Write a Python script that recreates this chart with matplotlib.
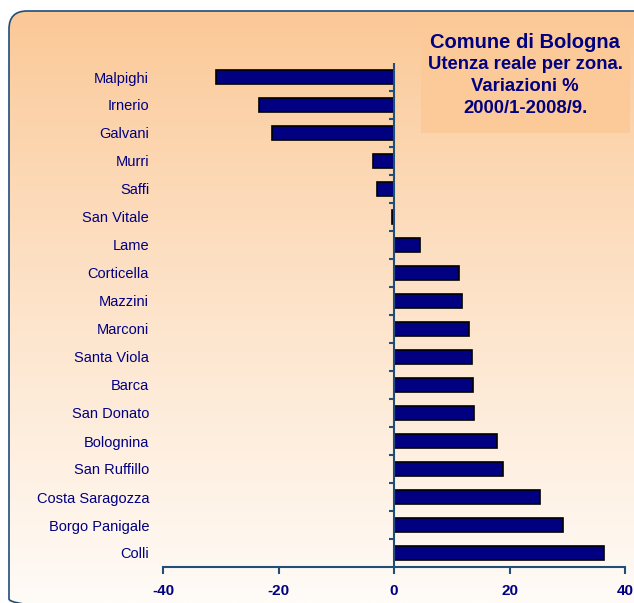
import numpy as np
import matplotlib.pyplot as plt
from matplotlib.patches import FancyBboxPatch

plt.rcParams['font.family'] = ['Liberation Sans', 'DejaVu Sans']

# --- Dati: variazione % utenza reale per zona ---
zone = ["Malpighi", "Irnerio", "Galvani", "Murri", "Saffi", "San Vitale",
        "Lame", "Corticella", "Mazzini", "Marconi", "Santa Viola", "Barca",
        "San Donato", "Bolognina", "San Ruffillo", "Costa Saragozza",
        "Borgo Panigale", "Colli"]
variazioni = [-30.9, -23.4, -21.2, -3.6, -3.0, -0.3,
              4.5, 11.3, 11.8, 13.0, 13.5, 13.7,
              13.9, 17.9, 18.9, 25.3, 29.2, 36.3]
tick_x = [-40, -20, 0, 20, 40]

blu = "#000080"
spina = "#1F4E79"

fig = plt.figure(figsize=(6.34, 6.03), dpi=100)

# sfondo con gradiente e bordo arrotondato (tagliato a destra e in basso)
sfondo = fig.add_axes([0, 0, 1, 1], zorder=0)
sfondo.set_xlim(0, 634)
sfondo.set_ylim(603, 0)
sfondo.axis('off')
cornice = FancyBboxPatch((9, 11), 660, 606, boxstyle="round,pad=0,rounding_size=18",
                         facecolor='none', edgecolor=spina, linewidth=1.2, zorder=3,
                         clip_on=False)
sfondo.add_patch(cornice)
grad = np.linspace(0, 1, 256).reshape(-1, 1)
c_alto = np.array([251, 200, 150]) / 255
c_basso = np.array([255, 251, 247]) / 255
img = c_alto + (c_basso - c_alto) * grad[..., None] ** 0.9
im = sfondo.imshow(img, extent=[9, 669, 603, 11], aspect='auto', zorder=1)
im.set_clip_path(cornice)

# riquadro del titolo
sfondo.add_patch(plt.Rectangle((421, 29), 209, 104, facecolor="#FCCA98",
                               edgecolor='none', zorder=2))
sfondo.text(525, 42, "Comune di Bologna", ha='center', va='center',
            fontsize=14.5, fontweight='bold', color=blu, zorder=4)
sfondo.text(525, 56, "Utenza reale per zona.\nVariazioni %\n2000/1-2008/9.",
            ha='center', va='top', fontsize=13.3, fontweight='bold', color=blu,
            linespacing=1.4, zorder=4)

# grafico a barre
ax = fig.add_axes([163 / 634, (603 - 567) / 603, 462 / 634, 504 / 603], zorder=5)
ax.patch.set_alpha(0)
pos = np.arange(len(zone))
ax.barh(pos, variazioni, height=0.5, color=blu, edgecolor='black', linewidth=1.2)
ax.set_xlim(-40, 40)
ax.set_ylim(len(zone) - 0.5, -0.5)

ax.set_yticks(pos)
ax.set_yticklabels(zone, fontsize=10.5, color=blu)
ax.tick_params(axis='y', length=0, pad=10)
ax.set_xticks(tick_x)
ax.set_xticklabels([str(t) for t in tick_x], fontsize=11, fontweight='bold', color=blu)
ax.tick_params(axis='x', length=5, width=1.5, color=spina, pad=7)

for lato in ['top', 'right', 'left']:
    ax.spines[lato].set_visible(False)
ax.spines['bottom'].set_color(spina)
ax.spines['bottom'].set_linewidth(1.5)

# asse verticale sullo zero con tacche tra le categorie
ax.axvline(0, color=spina, linewidth=1.5, zorder=4)
confini = np.arange(len(zone) - 1) + 0.5
ax.hlines(confini, -0.9, 0, color=spina, linewidth=1.5, zorder=4)

fig.savefig("out.png", dpi=100)
